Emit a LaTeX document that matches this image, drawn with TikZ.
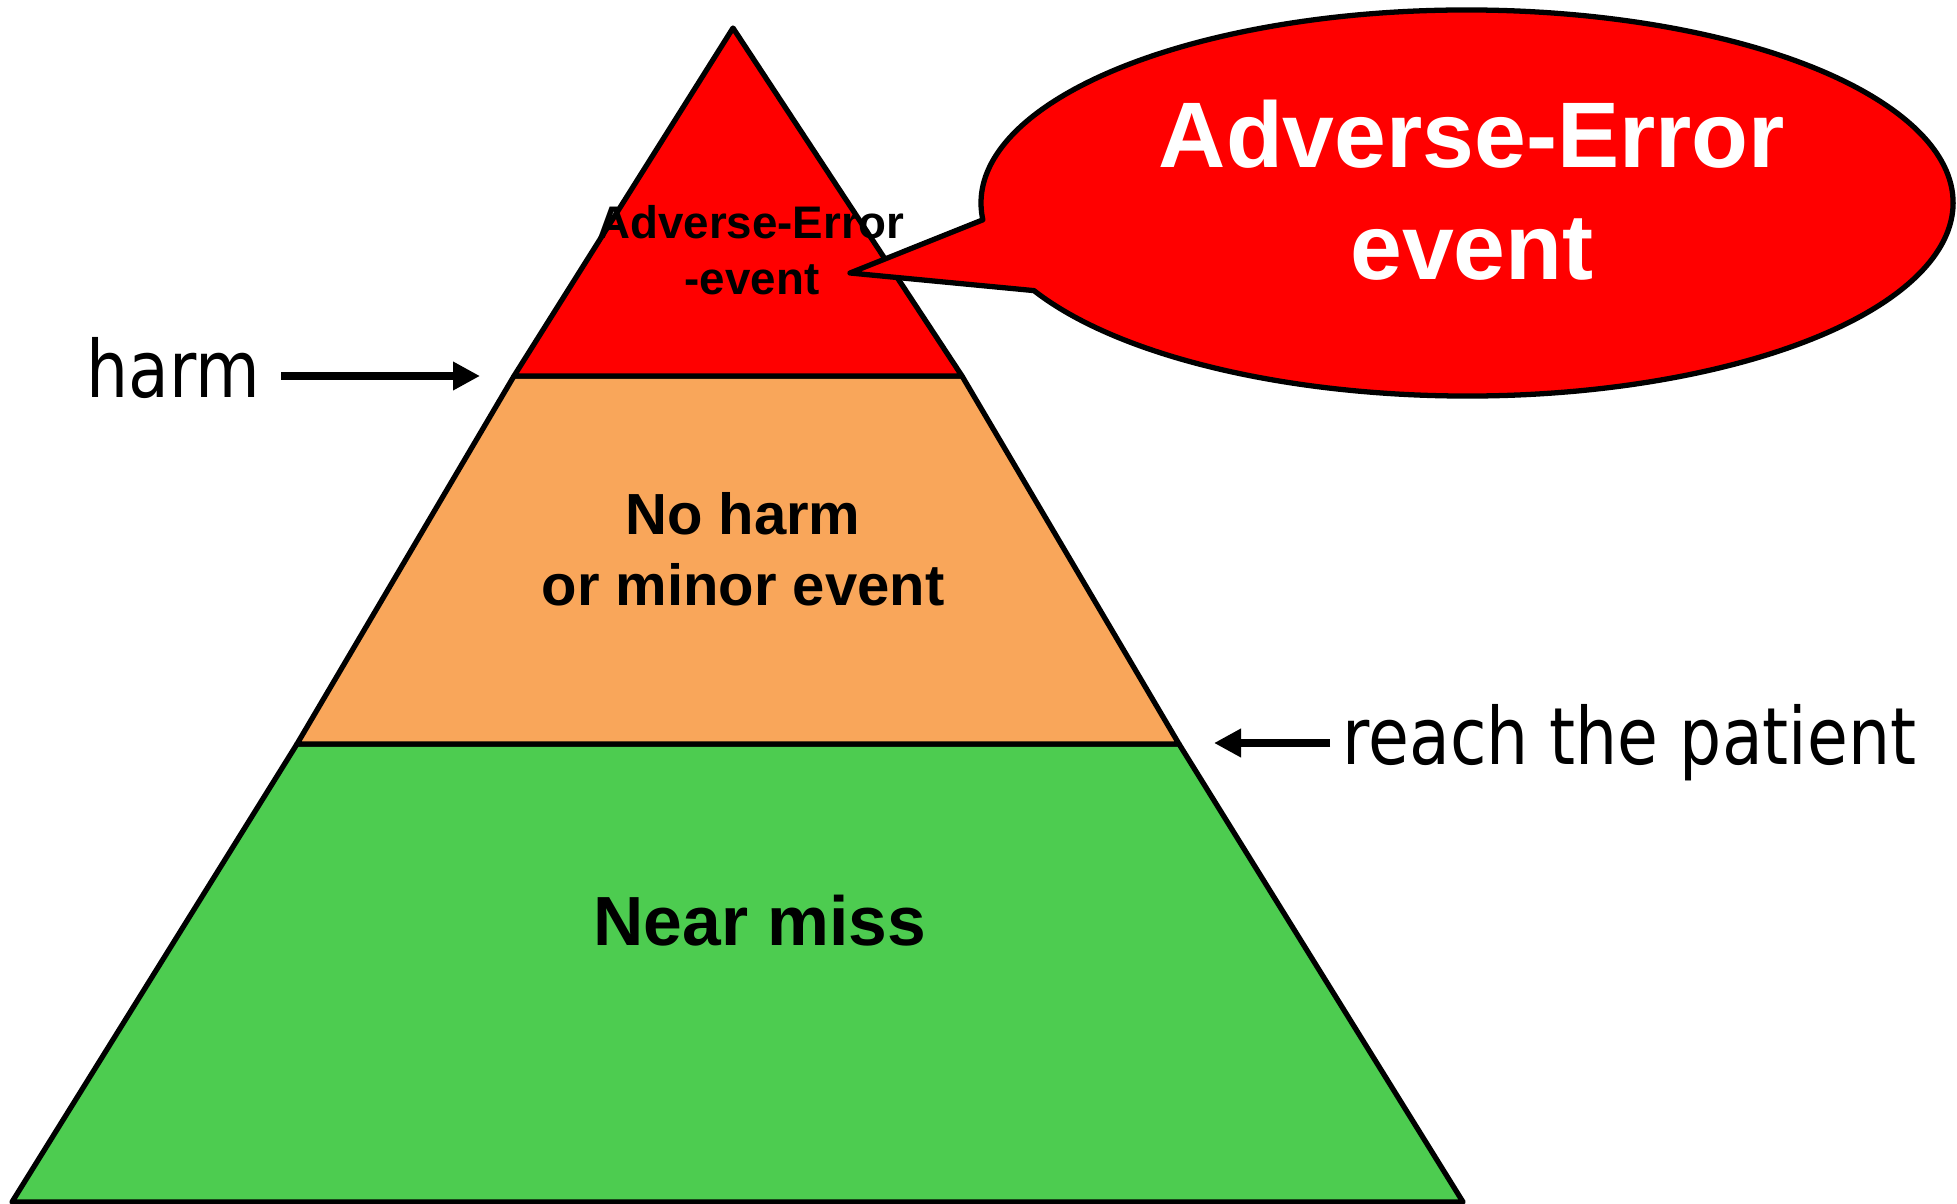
\documentclass[tikz,border=0pt]{standalone}
\usepackage{fontspec}
\setmainfont{Liberation Sans}
\newfontfamily\sidefont[FakeStretch=0.84]{DejaVu Sans}
\usetikzlibrary{arrows.meta}
\definecolor{toplayer}{RGB}{255,0,0}
\definecolor{midlayer}{RGB}{249,166,90}
\definecolor{baselayer}{RGB}{77,204,80}
\tikzset{
  layer/.style={draw=black, line width=1.5pt, line join=round},
  boldtext/.style={inner sep=0pt, anchor=base, font=\bfseries},
  sidelabel/.style={inner sep=0pt, font=\sidefont\fontsize{22.5}{27}\selectfont},
  pointer/.style={line width=2.2pt, -{Triangle[length=2.7mm, width=2.7mm]}},
}
\begin{document}
\begin{tikzpicture}
\useasboundingbox (0,0) rectangle (19.57,-12.04);

% pyramid layers, bottom to top
\draw[layer, fill=baselayer] (2.97,-7.44) -- (11.79,-7.44) -- (14.63,-12.02) -- (0.12,-12.02) -- cycle;
\draw[layer, fill=midlayer] (5.14,-3.76) -- (9.62,-3.76) -- (11.79,-7.44) -- (2.97,-7.44) -- cycle;
\draw[layer, fill=toplayer] (7.33,-0.28) -- (9.62,-3.76) -- (5.14,-3.76) -- cycle;

% layer captions
\node[boldtext, font=\bfseries\fontsize{13}{16}\selectfont] (topA) at (7.51,-2.39) {Adverse-Error};
\node[boldtext, font=\bfseries\fontsize{13}{16}\selectfont] (topB) at (7.52,-2.95) {-event};
\node[boldtext, font=\bfseries\fontsize{16.5}{20}\selectfont] (midA) at (7.43,-5.34) {No harm};
\node[boldtext, font=\bfseries\fontsize{16.5}{20}\selectfont] (midB) at (7.43,-6.05) {or minor event};
\node[boldtext, font=\bfseries\fontsize{19.8}{24}\selectfont] (base) at (7.60,-9.45) {Near miss};

% speech balloon with its tail
\coordinate (tip) at (8.50,-2.73);
\draw[layer, fill=toplayer] (14.67,-2.03) ++(207:4.86 and 1.93)
  arc[start angle=207, end angle=545, x radius=4.86, y radius=1.93] -- (tip) -- cycle;
\node[boldtext, text=white, font=\bfseries\fontsize{26.5}{32}\selectfont] (bubA) at (14.72,-1.68) {Adverse-Error};
\node[boldtext, text=white, font=\bfseries\fontsize{26.5}{32}\selectfont] (bubB) at (14.72,-2.80) {event};

% side labels and their pointers
\coordinate (hm) at (4.80,-3.76);
\coordinate (rp) at (12.14,-7.43);
\node[sidelabel, anchor=base east, inner xsep=0.2cm] (harm) at (2.81,-3.97) {harm};
\node[sidelabel, anchor=base west, inner xsep=0.12cm] (reach) at (13.30,-7.64) {reach the patient};
\draw[pointer] (harm.east |- hm) -- (hm);
\draw[pointer] (reach.west |- rp) -- (rp);
\end{tikzpicture}
\end{document}
